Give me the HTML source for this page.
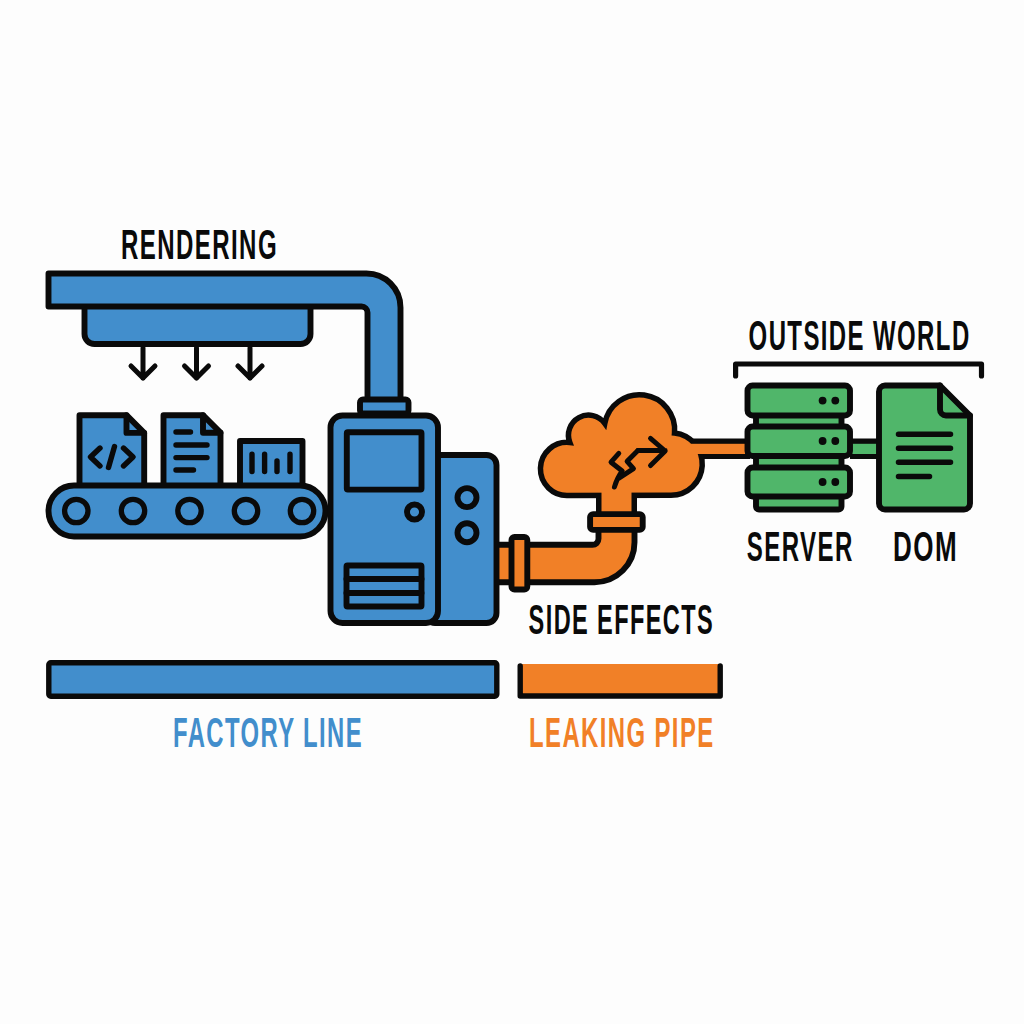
<!DOCTYPE html>
<html><head><meta charset="utf-8">
<style>
html,body{margin:0;padding:0;background:#fdfdfd;}
svg{display:block;}
text{font-family:"Liberation Sans",sans-serif;font-weight:bold;}
</style></head>
<body>
<svg width="1024" height="1024" viewBox="0 0 1024 1024">
<rect x="0" y="0" width="1024" height="1024" fill="#fdfdfd"/>
<g stroke="#0a0a0a" stroke-width="5.9" stroke-linejoin="round" stroke-linecap="round">
  <!-- hopper -->
  <path d="M84.5 300 V334 A10 10 0 0 0 94.5 344 H300.5 A10 10 0 0 0 310.5 334 V300 Z" fill="#428ecc"/>
  <!-- top bar + pipe -->
  <path d="M48.5 273.5 H366.5 A34 34 0 0 1 400.5 307.5 V405 H367.5 V312.5 A6 6 0 0 0 361.5 306.5 H48.5 Z" fill="#428ecc"/>
  <!-- arrows -->
  <g fill="none" stroke-width="5">
    <path d="M143 348 V378 M131 366 L143 378 L155 366"/>
    <path d="M196.5 348 V378 M184.5 366 L196.5 378 L208.5 366"/>
    <path d="M250 348 V378 M238 366 L250 378 L262 366"/>
  </g>
  <!-- docs -->
  <path d="M79.5 490 V415.2 H126.5 L144.2 432.9 V490 Z" fill="#428ecc"/>
  <path d="M126.5 415.2 V432.9 H144.2" fill="none"/>
  <path d="M163.5 490 V415.2 H203 L220.5 432.7 V490 Z" fill="#428ecc"/>
  <path d="M203 415.2 V432.7 H220.5" fill="none"/>
  <path d="M240 490 V441 H302.5 V490 Z" fill="#428ecc"/>
  <!-- code symbol -->
  <g fill="none" stroke-width="5.4">
    <path d="M100 448 L90.5 457 L100 466"/>
    <path d="M114.5 446.5 L108.5 467.5"/>
    <path d="M123.5 448 L133 457 L123.5 466"/>
    <path d="M176 432 H190.5 M176 445 H207 M176 457.6 H207 M176 470 H193.5"/>
    <path d="M252 454.3 V471.5 M264.6 454.3 V471.5 M277 461 V471.5 M290 454.3 V471.5"/>
  </g>
  <!-- belt -->
  <rect x="48.5" y="485.5" width="277" height="51" rx="25.5" fill="#428ecc"/>
  <g fill="none" stroke-width="5.3">
    <circle cx="76.3" cy="511" r="11.7"/>
    <circle cx="133" cy="511" r="11.7"/>
    <circle cx="189.5" cy="511" r="11.7"/>
    <circle cx="246" cy="511" r="11.7"/>
    <circle cx="302" cy="511" r="11.7"/>
  </g>
  <!-- orange elbow pipe -->
  <path d="M490 544.8 H592.5 A6 6 0 0 0 598.5 538.8 V520 H634.5 V542.2 A40 40 0 0 1 594.5 582.2 H490 Z" fill="#f18027"/>
  <!-- machine -->
  <rect x="360" y="399.5" width="48.5" height="14" rx="3" fill="#428ecc"/>
  <rect x="425" y="455" width="71.5" height="168" rx="10" fill="#428ecc"/>
  <rect x="330.5" y="415.5" width="107.5" height="207.5" rx="12" fill="#428ecc"/>
  <rect x="346.8" y="432.2" width="74.7" height="57.4" rx="1" fill="#428ecc"/>
  <circle cx="414.5" cy="512" r="7.5" fill="none"/>
  <circle cx="467" cy="497.6" r="9.5" fill="none"/>
  <circle cx="467" cy="532.7" r="9.5" fill="none"/>
  <rect x="346.5" y="565.5" width="75" height="41" rx="1" fill="#428ecc"/>
  <path d="M346.5 579 H421.5 M346.5 593 H421.5" fill="none"/>
  <!-- flange -->
  <rect x="511.5" y="537" width="15.8" height="52.5" rx="3" fill="#f18027"/>
</g>
<!-- cloud -->
<rect x="596" y="488" width="41" height="32" fill="#0a0a0a"/>
<rect x="688" y="438.5" width="62" height="20.5" fill="#0a0a0a"/>
<path d="M568.4 495.4 A26.55 26.55 0 1 1 569.82 442.49 A20.05 20.05 0 0 1 604.76 423.47 A35.25 35.25 0 0 1 674.53 432.95 A31.25 31.25 0 0 1 671 495.25 Z" fill="#f18027" stroke="#0a0a0a" stroke-width="5.5" stroke-linejoin="miter"/>
<rect x="601.5" y="488" width="30" height="32" fill="#f18027"/>
<rect x="688" y="443.8" width="62" height="10.2" fill="#f18027"/>
<g stroke="#0a0a0a" stroke-width="5.9" stroke-linejoin="round" stroke-linecap="round">
  <rect x="590.1" y="514.1" width="52.6" height="15.8" rx="3" fill="#f18027"/>
  <!-- crack + arrow -->
  <g fill="none" stroke-width="4.9">
    <path d="M618.8 453.4 L611 462.2 L622.2 471 Q617 478 614.4 487.1"/>
    <path d="M637.9 450.5 L627.1 461.3 L633.5 468.6 L619.3 477.9"/>
    <path d="M637.9 450.5 H665.2 M650.5 438.3 L665.2 451 L650.5 465.6"/>
  </g>
</g>
<!-- green connector -->
<rect x="850" y="438.5" width="28" height="20.5" fill="#0a0a0a"/>
<rect x="850" y="443.8" width="28" height="10.2" fill="#50b66a"/>
<g stroke="#0a0a0a" stroke-width="5.9" stroke-linejoin="round" stroke-linecap="round">
  <!-- server -->
  <rect x="756" y="410" width="85.5" height="20" rx="3" fill="#50b66a"/>
  <rect x="756" y="450" width="85.5" height="20" rx="3" fill="#50b66a"/>
  <rect x="756" y="490" width="85.5" height="19.5" rx="3" fill="#50b66a"/>
  <rect x="747.5" y="385.5" width="102.5" height="30" rx="5" fill="#50b66a"/>
  <rect x="747.5" y="426.5" width="102.5" height="29.5" rx="5" fill="#50b66a"/>
  <rect x="747.5" y="467.5" width="102.5" height="29" rx="5" fill="#50b66a"/>
  <g fill="#0a0a0a" stroke="none">
    <circle cx="822.6" cy="400.6" r="3.9"/><circle cx="835.3" cy="400.6" r="3.9"/>
    <circle cx="822.6" cy="441" r="3.9"/><circle cx="835.3" cy="441" r="3.9"/>
    <circle cx="822.6" cy="482" r="3.9"/><circle cx="835.3" cy="482" r="3.9"/>
  </g>
  <!-- dom -->
  <path d="M885 385.5 H940 L970 415.5 V503.5 A6 6 0 0 1 964 509.5 H885 A6 6 0 0 1 879 503.5 V391.5 A6 6 0 0 1 885 385.5 Z" fill="#50b66a"/>
  <path d="M940 385.5 V409.5 A6 6 0 0 0 946 415.5 H970" fill="none"/>
  <path d="M898.5 434.2 H950.5 M898.5 448.3 H950.5 M898.5 462.3 H950.5 M898.5 476.4 H929.5" fill="none" stroke-width="5.5"/>
  <!-- bracket -->
  <path d="M735.6 376 V364 H981.5 V376" fill="none" stroke-width="5.2"/>
  <!-- bottom bars -->
  <rect x="48.8" y="662.8" width="448" height="33.5" rx="2" fill="#428ecc" stroke-width="5.4"/>
</g>
<rect x="520" y="664" width="200" height="31.5" fill="#f18027"/>
<path d="M520.2 666 V696 H720.2 V666" fill="none" stroke="#0a0a0a" stroke-width="5.4" stroke-linecap="round" stroke-linejoin="round"/>
<g fill="#0a0a0a" font-size="42" letter-spacing="2.5">
  <text x="121" y="258.5" textLength="157" lengthAdjust="spacingAndGlyphs">RENDERING</text>
  <text x="748.6" y="350" textLength="222" lengthAdjust="spacingAndGlyphs">OUTSIDE WORLD</text>
  <text x="746.8" y="561.2" textLength="107" lengthAdjust="spacingAndGlyphs">SERVER</text>
  <text x="893" y="561.2" textLength="65.3" lengthAdjust="spacingAndGlyphs">DOM</text>
  <text x="528.6" y="633.8" textLength="185.5" lengthAdjust="spacingAndGlyphs">SIDE EFFECTS</text>
  <text x="173" y="746.6" textLength="190" lengthAdjust="spacingAndGlyphs" fill="#428ecc">FACTORY LINE</text>
  <text x="529.1" y="747" textLength="185.5" lengthAdjust="spacingAndGlyphs" fill="#f18027">LEAKING PIPE</text>
</g>
</svg>
</body></html>
